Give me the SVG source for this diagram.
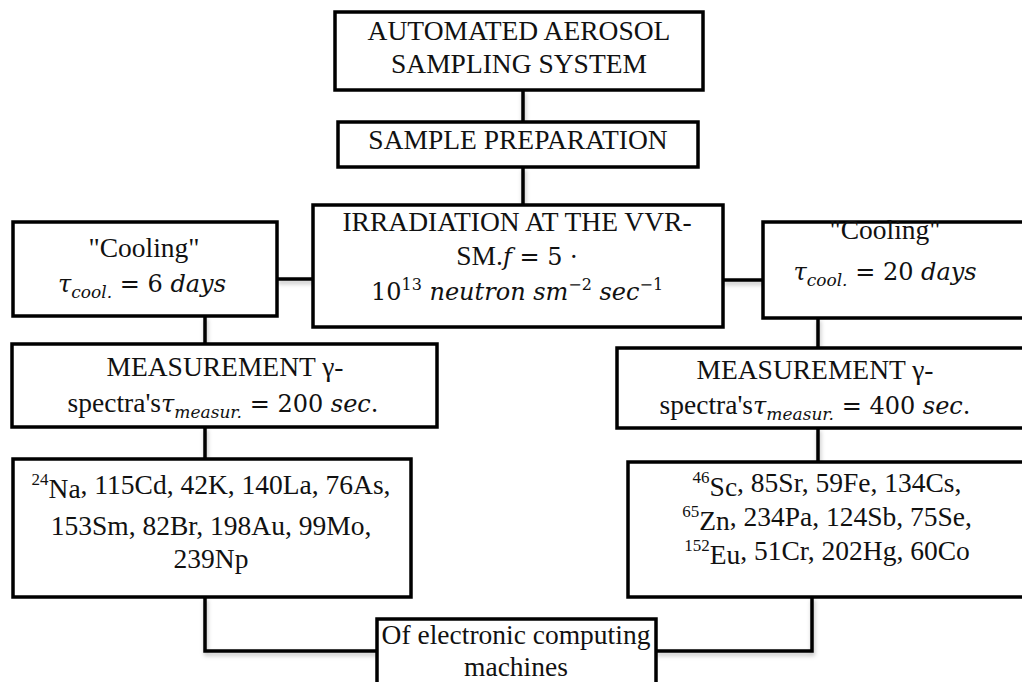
<svg xmlns="http://www.w3.org/2000/svg" width="1022" height="682" viewBox="0 0 1022 682" font-family="'Liberation Serif', serif">
<defs>
<filter id="sh" x="-5%" y="-20%" width="110%" height="140%">
<feDropShadow dx="1" dy="3" stdDeviation="2" flood-color="#000" flood-opacity="0.25"/>
</filter>
</defs>
<style>
.box{fill:#fff;stroke:#000;stroke-width:3.5}
.con{fill:none;stroke:#000;stroke-width:3.5;stroke-linejoin:miter}
text{font-family:"Liberation Serif","Times New Roman",serif;font-size:27.5px;fill:#111;text-anchor:middle}
.m{font-family:"DejaVu Serif",serif;font-style:italic;font-size:24px}
.mr{font-family:"DejaVu Serif",serif;font-size:24px}
.sub{font-family:"DejaVu Serif",serif;font-style:italic;font-size:17px}
.sup{font-size:17px}
.msup{font-family:"DejaVu Serif",serif;font-size:16px}
</style>
<rect width="1022" height="682" fill="#fff"/>
<g id="connectors" filter="url(#sh)">
<path class="con" d="M523 90V122"/>
<path class="con" d="M523 167V205"/>
<path class="con" d="M277 279H313"/>
<path class="con" d="M723 280H763"/>
<path class="con" d="M205 316V344"/>
<path class="con" d="M818 318V348"/>
<path class="con" d="M205 427V459"/>
<path class="con" d="M818 428V462"/>
<path class="con" d="M205 597V651H377"/>
<path class="con" d="M812 597V651H656"/>
</g>
<g id="n1">
<rect class="box" x="335" y="12" width="368" height="78"/>
<text x="519" y="40">AUTOMATED AEROSOL</text>
<text x="519" y="73">SAMPLING SYSTEM</text>
</g>
<g id="n2">
<rect class="box" x="338" y="122" width="360" height="45"/>
<text x="518" y="149">SAMPLE PREPARATION</text>
</g>
<g id="n3">
<rect class="box" x="313" y="205" width="410" height="122"/>
<text x="517" y="231">IRRADIATION AT THE VVR-</text>
<text x="517" y="265">SM.<tspan class="m">f</tspan><tspan class="mr"> = 5 ·</tspan></text>
<text x="517" y="300"><tspan class="mr">10</tspan><tspan class="msup" dy="-10">13</tspan><tspan class="m" dy="10"> neutron sm</tspan><tspan class="msup" dy="-10">−2</tspan><tspan class="m" dy="10"> sec</tspan><tspan class="msup" dy="-10">−1</tspan></text>
</g>
<g id="n4">
<rect class="box" x="13" y="222" width="264" height="94"/>
<text x="144" y="257">"Cooling"</text>
<text x="142" y="292"><tspan class="m">τ</tspan><tspan class="sub" dy="6">cool.</tspan><tspan class="mr" dy="-6"> = 6 </tspan><tspan class="m">days</tspan></text>
</g>
<g id="n5">
<rect class="box" x="763" y="222" width="270" height="96"/>
<text x="885" y="239">"Cooling"</text>
<text x="885" y="280"><tspan class="m">τ</tspan><tspan class="sub" dy="6">cool.</tspan><tspan class="mr" dy="-6"> = 20 </tspan><tspan class="m">days</tspan></text>
</g>
<g id="n6">
<rect class="box" x="12" y="344" width="425" height="83"/>
<text x="225" y="376">MEASUREMENT γ-</text>
<text x="223" y="412">spectra's<tspan class="m">τ</tspan><tspan class="sub" dy="6">measur.</tspan><tspan class="mr" dy="-6"> = 200 </tspan><tspan class="m">sec</tspan><tspan class="mr">.</tspan></text>
</g>
<g id="n7">
<rect class="box" x="617" y="348" width="416" height="80"/>
<text x="815" y="379">MEASUREMENT γ-</text>
<text x="815" y="414">spectra's<tspan class="m">τ</tspan><tspan class="sub" dy="6">measur.</tspan><tspan class="mr" dy="-6"> = 400 </tspan><tspan class="m">sec</tspan><tspan class="mr">.</tspan></text>
</g>
<g id="n8">
<rect class="box" x="13" y="459" width="398" height="138"/>
<text x="211" y="494"><tspan class="sup" dy="-9">24</tspan><tspan dy="13">Na</tspan><tspan dy="-4">, 115Cd, 42K, 140La, 76As,</tspan></text>
<text x="211" y="535">153Sm, 82Br, 198Au, 99Mo,</text>
<text x="211" y="568">239Np</text>
</g>
<g id="n9">
<rect class="box" x="628" y="462" width="405" height="135"/>
<text x="827" y="492"><tspan class="sup" dy="-9">46</tspan><tspan dy="13">Sc</tspan><tspan dy="-4">, 85Sr, 59Fe, 134Cs,</tspan></text>
<text x="827" y="526"><tspan class="sup" dy="-9">65</tspan><tspan dy="13">Zn</tspan><tspan dy="-4">, 234Pa, 124Sb, 75Se,</tspan></text>
<text x="827" y="560"><tspan class="sup" dy="-9">152</tspan><tspan dy="13">Eu</tspan><tspan dy="-4">, 51Cr, 202Hg, 60Co</tspan></text>
</g>
<g id="n10">
<rect class="box" x="377" y="619" width="279" height="80"/>
<text x="516" y="644">Of electronic computing</text>
<text x="516" y="676">machines</text>
</g>
</svg>
